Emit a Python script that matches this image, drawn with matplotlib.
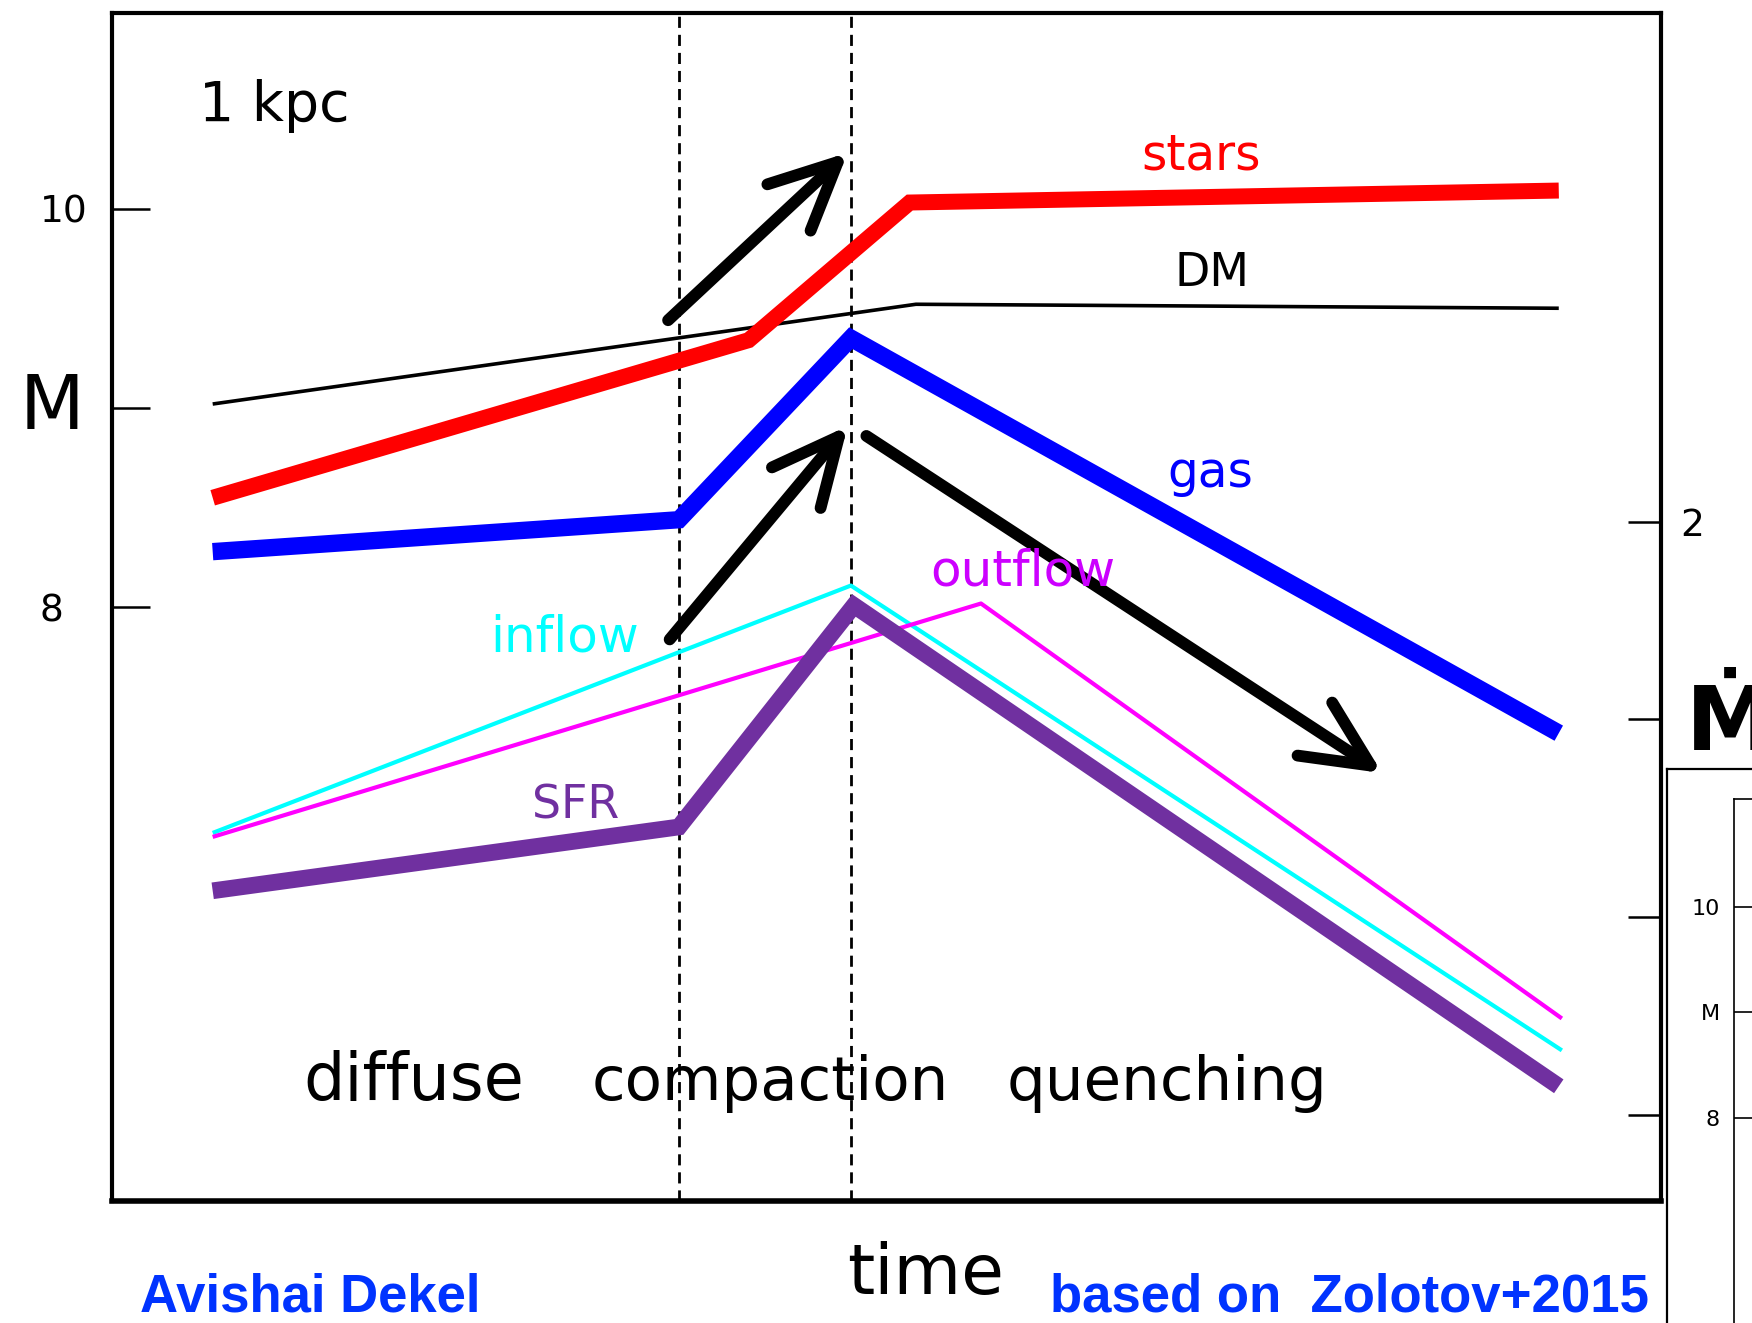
import matplotlib
matplotlib.use('Agg')
import matplotlib.pyplot as plt

W, H = 1752, 1323
plt.rcParams['font.family'] = ['DejaVu Sans']

# time axis is 0..10 across the box, M axis in "log mass" units
stars_t = [0.65, 4.11, 5.15, 9.34]
stars_m = [8.55, 9.34, 10.03, 10.09]
dm_t = [0.65, 5.19, 9.34]
dm_m = [9.02, 9.52, 9.50]
gas_t = [0.65, 3.66, 4.77, 9.34]
gas_m = [8.28, 8.44, 9.35, 7.37]
inflow_t = [0.65, 4.77, 9.36]
inflow_m = [6.87, 8.11, 5.78]
outflow_t = [0.65, 5.61, 9.36]
outflow_m = [6.85, 8.02, 5.94]
sfr_t = [0.65, 3.66, 4.79, 9.34]
sfr_m = [6.58, 6.90, 8.01, 5.60]

phase_t = [3.66, 4.77]          # compaction start, compaction peak
left_ticks = [10, 9, 8]
left_labels = ['10', '', '8']
right_ticks = [2, 1, 0, -1]
right_labels = ['2', '', '', '']

# arrows: (start, end)
arrows = [((3.59, 9.44), (4.75, 10.28)),
          ((3.60, 7.84), (4.75, 8.91)),
          ((4.87, 8.86), (8.20, 7.17))]

fig = plt.figure(figsize=(W / 100, H / 100), dpi=100)
fig.patch.set_facecolor('white')

L, R, T, B = 112, 1661, 13, 1201
ax = fig.add_axes([L / W, 1 - B / H, (R - L) / W, (B - T) / H])
ax.set_xlim(0, 10)
ax.set_ylim(5.025, 10.98)
for s in ax.spines.values():
    s.set_linewidth(3)
ax.spines['bottom'].set_linewidth(4)
ax.set_xticks([])
ax.set_yticks(left_ticks)
ax.set_yticklabels(left_labels, fontsize=27, ha='left')
ax.tick_params(axis='y', direction='in', length=27, width=1.8, pad=52)

ax2 = ax.twinx()
ax2.set_ylim(-1.434, 4.570)
ax2.set_yticks(right_ticks)
ax2.set_yticklabels(right_labels, fontsize=27)
ax2.tick_params(axis='y', direction='in', length=24, width=1.8, pad=14)
for s in ax2.spines.values():
    s.set_visible(False)

for t in phase_t:
    ax.axvline(t, color='black', lw=2, dashes=(4, 2.5), zorder=1)

ax.plot(dm_t, dm_m, color='black', lw=2.6, solid_capstyle='butt')
ax.plot(inflow_t, inflow_m, color='#00FFFF', lw=3, solid_capstyle='butt')
ax.plot(outflow_t, outflow_m, color='#FF00FF', lw=3, solid_capstyle='butt')
ax.plot(sfr_t, sfr_m, color='#7030A0', lw=12, solid_capstyle='butt', solid_joinstyle='miter')
ax.plot(gas_t, gas_m, color='#0000FF', lw=12.5, solid_capstyle='butt', solid_joinstyle='miter')
ax.plot(stars_t, stars_m, color='#FF0000', lw=11.5, solid_capstyle='butt', solid_joinstyle='miter')

for (x0, y0), (x1, y1) in arrows:
    ax.annotate('', xy=(x1, y1), xytext=(x0, y0),
                arrowprops=dict(arrowstyle='->,head_length=0.8,head_width=0.38',
                                mutation_scale=60, lw=8.5, color='black',
                                capstyle='round', shrinkA=0, shrinkB=0))

ax.text(1.045, 10.44, '1 kpc', fontsize=40, ha='center', va='baseline')
ax.text(7.03, 10.196, 'stars', color='#FF0000', fontsize=35, ha='center', va='baseline')
ax.text(7.10, 9.61, 'DM', color='black', fontsize=33, ha='center', va='baseline')
ax.text(7.09, 8.605, 'gas', color='#0000FF', fontsize=35, ha='center', va='baseline')
ax.text(5.88, 8.11, 'outflow', color='#CC00FF', fontsize=36, ha='center', va='baseline')
ax.text(2.92, 7.78, 'inflow', color='#00FFFF', fontsize=36, ha='center', va='baseline')
ax.text(2.99, 6.94, 'SFR', color='#7030A0', fontsize=33, ha='center', va='baseline')

ax.text(1.95, 5.53, 'diffuse', fontsize=47, ha='center', va='baseline')
ax.text(4.25, 5.53, 'compaction', fontsize=44, ha='center', va='baseline')
ax.text(6.81, 5.53, 'quenching', fontsize=44, ha='center', va='baseline')
ax.text(5.25, 4.56, 'time', fontsize=50, ha='center', va='baseline', clip_on=False)

fig.text(52 / W, 1 - 408 / H, 'M', fontsize=54, ha='center', va='center')
fig.text(1686 / W, 1 - 725 / H, '\u1E40', fontsize=64, fontweight='bold',
         ha='left', va='center')

blue = '#0033FF'
fig.text(310 / W, 1 / H, 'Avishai Dekel', color=blue, fontsize=38,
         fontweight='bold', family='Liberation Sans', ha='center', va='bottom')
fig.text(1349 / W, 1 / H, 'based on  Zolotov+2015', color=blue, fontsize=38,
         fontweight='bold', family='Liberation Sans', ha='center', va='bottom')

# cropped neighbouring panel at bottom right
outer = fig.add_axes([1667 / W, 0, 0.5, (H - 769) / H])
outer.set_xticks([])
outer.set_yticks([])
for k in ['right', 'bottom']:
    outer.spines[k].set_visible(False)
for k in ['left', 'top']:
    outer.spines[k].set_linewidth(1.6)

inner = fig.add_axes([1734 / W, 0, 0.5, (H - 799) / H])
inner.set_xticks([])
inner.set_ylim(6.06, 11.02)
inner.set_yticks([8, 9, 10])
inner.set_yticklabels(['8', 'M', '10'], fontsize=16)
inner.tick_params(axis='y', direction='in', length=14, width=1.2, pad=10)
for k in ['right', 'bottom']:
    inner.spines[k].set_visible(False)
for k in ['left', 'top']:
    inner.spines[k].set_linewidth(1.2)

fig.savefig('out.png', dpi=100)
